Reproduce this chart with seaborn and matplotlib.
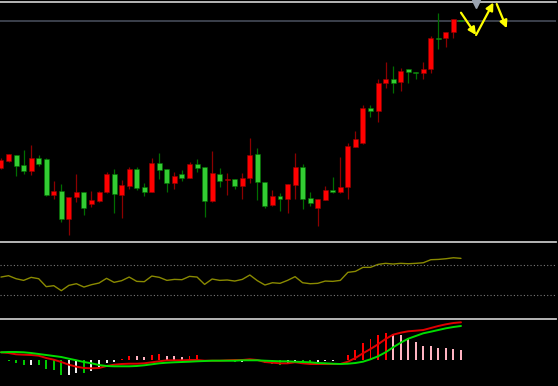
import numpy as np
import matplotlib
matplotlib.use("Agg")
import matplotlib.pyplot as plt
import seaborn as sns

# daily candles (red = up, green = down)
opens = [17.2, 17.9, 18.55, 17.5, 16.93, 18.2, 18.1, 14.47, 14.87, 12.07,
         14.27, 14.77, 13.6, 13.93, 14.77, 16.6, 14.5, 15.43, 17.1, 15.3,
         14.83, 17.67, 17.13, 15.73, 16.6, 16.23, 17.6, 17.27, 13.87, 16.63,
         15.97, 16.07, 15.43, 16.17, 18.57, 15.83, 13.5, 14.4, 14.07, 15.5,
         17.3, 14.17, 13.23, 14.0, 14.97, 14.83, 15.27, 19.33, 19.67, 23.2,
         22.9, 25.67, 26.07, 25.83, 27.13, 26.83, 26.73, 27.07, 30.23, 30.2,
         30.8, 32.05]
highs = [18.2, 18.6, 18.55, 19.0, 19.47, 18.5, 18.23, 15.9, 15.6, 14.3,
         16.63, 14.8, 14.9, 14.93, 16.77, 17.1, 16.0, 17.27, 17.33, 15.73,
         18.17, 18.67, 17.15, 16.77, 17.0, 17.77, 18.1, 17.3, 18.9, 17.23,
         16.67, 16.1, 16.73, 20.17, 19.17, 15.85, 15.0, 14.67, 15.62, 18.67,
         17.57, 14.77, 14.1, 15.4, 16.27, 18.27, 19.67, 20.93, 23.5, 23.47,
         26.1, 27.8, 27.4, 27.23, 27.15, 26.85, 27.8, 30.4, 32.67, 30.85,
         32.1, 32.05]
lows = [17.1, 17.85, 16.4, 16.63, 16.53, 17.43, 14.45, 14.07, 11.83, 10.5,
        13.83, 12.53, 13.3, 13.83, 14.75, 12.67, 12.23, 15.13, 15.03, 14.43,
        14.8, 16.1, 14.83, 15.13, 15.93, 16.2, 16.8, 12.33, 13.8, 15.33,
        14.5, 15.07, 14.07, 15.67, 14.0, 13.23, 13.4, 12.93, 12.73, 14.07,
        13.1, 13.4, 11.43, 13.97, 14.67, 14.67, 14.1, 19.3, 19.65, 22.27,
        21.83, 25.23, 24.73, 24.9, 25.73, 26.07, 26.07, 26.73, 29.07, 29.33,
        30.17, 31.95]
closes = [18.0, 18.55, 17.45, 16.93, 18.2, 17.6, 14.5, 14.9, 12.07, 14.27,
          14.77, 13.2, 13.97, 14.77, 16.6, 14.57, 15.5, 17.1, 15.23, 14.83,
          17.67, 17.03, 15.73, 16.4, 16.23, 17.6, 17.23, 13.87, 16.67, 15.93,
          16.07, 15.4, 16.17, 18.5, 15.77, 13.43, 14.43, 14.13, 15.6, 17.3,
          14.1, 13.7, 14.07, 14.97, 14.77, 15.3, 19.4, 20.07, 23.17, 22.87,
          25.7, 26.07, 25.73, 26.9, 26.77, 26.7, 27.1, 30.2, 30.1, 30.83,
          32.07, 31.95]

rsi = [53.7, 55.5, 51.5, 49.3, 53.3, 51.5, 41.0, 42.3, 35.7, 42.7,
       44.9, 40.5, 43.6, 45.8, 52.0, 46.7, 48.9, 53.7, 48.0, 47.6,
       55.0, 53.3, 49.3, 50.6, 50.2, 54.6, 53.7, 44.0, 51.1, 49.3,
       49.8, 48.4, 50.6, 56.4, 48.9, 43.2, 46.2, 45.4, 49.3, 54.2,
       46.2, 44.9, 45.4, 48.4, 48.0, 49.3, 59.9, 61.2, 66.5, 66.5,
       70.4, 71.8, 70.9, 71.8, 71.3, 71.8, 72.6, 76.6, 77.0, 77.9,
       79.2, 78.4]
rsi_levels = [70, 30]

dif = [7.7, 7.0, 5.7, 5.3, 5.0, 4.3, 2.0, 0.3, -2.0, -4.7,
       -6.7, -8.0, -8.3, -8.0, -6.0, -4.7, -4.0, -3.7, -3.7, -3.3,
       -2.3, -1.3, -0.3, -0.3, -0.3, 0.0, 0.0, -0.7, -0.7, -0.7,
       -0.3, 0.0, 0.0, 0.7, 0.0, -2.0, -2.7, -3.3, -3.3, -2.3,
       -3.3, -4.0, -4.0, -4.0, -4.0, -4.0, -1.7, 2.0, 6.7, 11.0,
       15.7, 21.0, 25.3, 27.3, 28.7, 29.3, 30.0, 32.0, 34.0, 35.7,
       37.0, 37.7]
dea = [7.7, 8.0, 8.0, 7.7, 7.0, 6.0, 5.0, 4.0, 3.0, 1.3,
       -0.3, -2.0, -3.3, -5.0, -6.0, -6.3, -6.3, -6.3, -6.0, -5.3,
       -4.3, -3.3, -2.7, -2.3, -2.0, -1.7, -1.3, -1.0, -0.7, -0.7,
       -0.7, -0.7, -0.3, -0.3, -0.3, -0.7, -1.0, -1.3, -1.3, -1.7,
       -2.0, -2.3, -3.0, -3.3, -3.7, -4.0, -3.7, -3.0, -1.7, 0.7,
       3.7, 7.7, 12.7, 17.3, 21.3, 24.0, 26.7, 28.3, 30.0, 31.7,
       33.0, 34.0]
macd_hist = [0.0, -0.7, -3.0, -5.0, -4.7, -5.3, -9.0, -10.0, -15.0, -14.7,
             -13.0, -13.3, -11.0, -7.0, -3.0, -1.5, 1.3, 4.0, 3.8, 2.7,
             5.0, 6.0, 4.3, 4.0, 3.3, 4.0, 4.7, 0.5, 0.0, 0.0,
             0.3, -2.0, -1.7, 0.3, 0.0, -3.0, -4.0, -4.7, -4.0, -2.0,
             -2.7, -3.3, -2.0, -1.3, -0.7, -0.3, 4.7, 10.0, 17.0, 21.0,
             25.3, 27.0, 26.3, 25.3, 22.0, 18.0, 14.3, 13.7, 12.3, 11.7,
             11.5, 10.0]

# hand-drawn zigzag arrows on the price panel (bar index, price)
arrow_segs = [((61.0, 32.73), (63.0, 30.5)),
              ((63.0, 30.5), (65.3, 33.75)),
              ((65.74, 33.6), (67.07, 31.17))]
marker_pos = (63.0, 33.6)

sns.set_style("dark", {"axes.facecolor": "black", "figure.facecolor": "black"})

W, H = 558, 386
fig = plt.figure(figsize=(W / 100, H / 100), dpi=100, facecolor="black")
ax1 = fig.add_axes([0, 146 / H, 556 / W, 238 / H])
ax2 = fig.add_axes([0, 68.3 / H, 556 / W, 75.7 / H])
ax3 = fig.add_axes([0, 0, 556 / W, 67.5 / H])

x = np.arange(len(opens))
o = np.array(opens)
c = np.array(closes)
up = c >= o

# candles
wick_cols = np.where(up, "#8c0000", "#006e00")
body_cols = np.where(up, "#ff0000", "#33cc33")
ax1.vlines(x, lows, highs, colors=wick_cols, lw=0.9, zorder=2)
ax1.bar(x, np.maximum(np.abs(c - o), 0.1), bottom=np.minimum(o, c), width=0.66,
        color=body_cols, edgecolor=wick_cols, lw=0.4, zorder=3)
ax1.axhline(closes[-1], color="#4b5260", lw=1.1, zorder=1)

for (p0, p1) in arrow_segs:
    ax1.annotate("", xy=p1, xytext=p0, annotation_clip=False,
                 arrowprops=dict(arrowstyle="-|>", color="#ffff00", lw=1.6,
                                 mutation_scale=11, shrinkA=0, shrinkB=0))
ax1.plot(*marker_pos, marker="v", ms=6, color="#9aa3b0", clip_on=False, zorder=5)
ax1.set_ylim(10, 33.8)

# RSI
sns.lineplot(x=x, y=rsi, ax=ax2, color="#8a8a00", lw=1.0)
for lv in rsi_levels:
    ax2.axhline(lv, color="#7a7a7a", lw=0.8, ls=(0, (1, 2)))
ax2.set_ylim(0, 100)

# MACD
h = np.array(macd_hist)
prev = np.concatenate([[0.0], h[:-1]])
hist_cols = np.where(h >= 0, np.where(h >= prev, "#ff0000", "#ffb3c1"),
                     np.where(h <= prev, "#00c800", "#f0f0f0"))
ax3.bar(x, h, width=0.26, color=hist_cols, edgecolor="none", lw=0, zorder=2)
sns.lineplot(x=x, y=dif, ax=ax3, color="#e00000", lw=1.4, zorder=3)
sns.lineplot(x=x, y=dea, ax=ax3, color="#00dd00", lw=1.4, zorder=4)
ax3.set_ylim(-26, 41.5)

for ax in (ax1, ax2, ax3):
    ax.set_facecolor("black")
    ax.set_xlim(-0.13, 73.6)
    ax.set_xticks([])
    ax.set_yticks([])
    ax.set_xlabel("")
    ax.set_ylabel("")
    for side in ("left", "right", "bottom"):
        ax.spines[side].set_visible(False)
    ax.spines["top"].set_visible(True)
    ax.spines["top"].set_color("#c4c4c4")
    ax.spines["top"].set_linewidth(1.3)
    ax.grid(False)

fig.savefig("out.png", dpi=100, facecolor="black")
